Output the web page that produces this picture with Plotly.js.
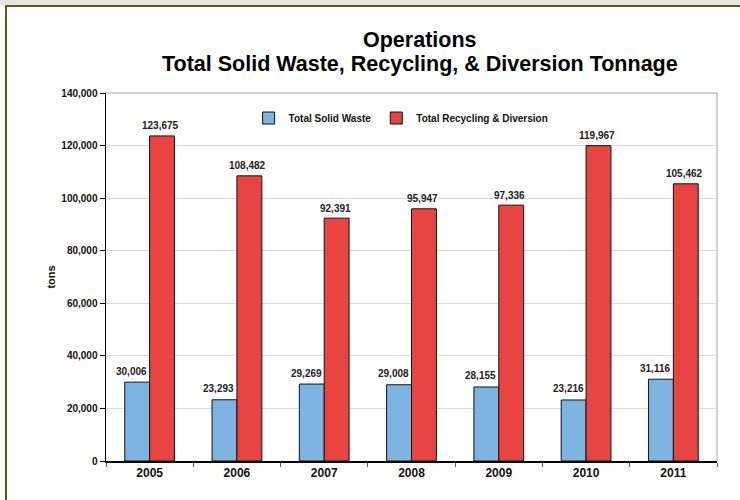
<!DOCTYPE html>
<html>
<head>
<meta charset="utf-8">
<script src="https://cdn.plot.ly/plotly-3.0.1.min.js"></script>
<style>
  html, body { margin: 0; padding: 0; background: #ffffff; }
  #wrap { position: relative; width: 740px; height: 500px; overflow: hidden; background: #ffffff; }
  #strip { position: absolute; left: 0; top: 0; width: 740px; height: 5px; background: #e6e6e6; }
  #frame { position: absolute; left: 5px; top: 5px; width: 740px; height: 500px;
           border-top: 2px solid #6b5422; border-left: 2px solid #6b5422; }
  #chart { position: absolute; left: 0; top: 0; width: 740px; height: 500px; }
</style>
</head>
<body>
<div id="wrap">
  <div id="strip"></div>
  <div id="frame"></div>
  <div id="chart"></div>
</div>
<script>
const years = ['2005', '2006', '2007', '2008', '2009', '2010', '2011'];
const solidWaste = [30006, 23293, 29269, 29008, 28155, 23216, 31116];
const recycling = [123675, 108482, 92391, 95947, 97336, 119967, 105462];
const seriesNames = ['Total Solid Waste', 'Total Recycling & Diversion'];
const titleLines = ['Operations', 'Total Solid Waste, Recycling, & Diversion Tonnage'];
const yTickVals = [0, 20000, 40000, 60000, 80000, 100000, 120000, 140000];

const FONT = 'Liberation Sans, Arial, sans-serif';
const fmt = v => v.toLocaleString('en-US');

const traces = [
  {
    type: 'bar', name: seriesNames[0], x: years, y: solidWaste,
    marker: { color: '#7db4e2', line: { color: '#111111', width: 1 } },
    hoverinfo: 'none'
  },
  {
    type: 'bar', name: seriesNames[1], x: years, y: recycling,
    marker: { color: '#e84441', line: { color: '#111111', width: 1 } },
    hoverinfo: 'none'
  }
];

const annotations = [];
years.forEach((yr, i) => {
  annotations.push({
    x: i, y: solidWaste[i], xref: 'x', yref: 'y', text: '<b>' + fmt(solidWaste[i]) + '</b>',
    showarrow: false, xshift: -18, yshift: 11, font: { family: FONT, size: 10, color: '#222' }
  });
  annotations.push({
    x: i, y: recycling[i], xref: 'x', yref: 'y', text: '<b>' + fmt(recycling[i]) + '</b>',
    showarrow: false, xshift: 11, yshift: 10, font: { family: FONT, size: 10, color: '#222' }
  });
});
annotations.push({
  x: 0.514, y: 1.144, xref: 'paper', yref: 'paper', xanchor: 'center', yanchor: 'middle',
  text: '<b>' + titleLines[0] + '</b>', showarrow: false,
  font: { family: FONT, size: 21.5, color: '#000' }
});
annotations.push({
  x: 0.514, y: 1.0788, xref: 'paper', yref: 'paper', xanchor: 'center', yanchor: 'middle',
  text: '<b>' + titleLines[1] + '</b>', showarrow: false,
  font: { family: FONT, size: 21.5, color: '#000' }
});

const layout = {
  width: 740, height: 500,
  margin: { l: 106, r: 23, t: 93, b: 39 },
  paper_bgcolor: 'rgba(0,0,0,0)',
  plot_bgcolor: '#ffffff',
  font: { family: FONT, color: '#111' },
  barmode: 'group',
  bargap: 0.43,
  bargroupgap: 0,
  showlegend: true,
  legend: {
    orientation: 'h', x: 0.483, xanchor: 'center', y: 0.932, yanchor: 'middle',
    font: { family: FONT, size: 10, color: '#111', weight: 'bold' },
    bgcolor: 'rgba(0,0,0,0)', itemwidth: 30, traceorder: 'normal'
  },
  xaxis: {
    type: 'category',
    range: [-0.5, years.length - 0.5],
    autorange: false,
    showline: true, linecolor: '#000', linewidth: 1.5,
    ticks: 'outside', tickson: 'boundaries', ticklen: 4, tickcolor: '#555',
    tickfont: { family: FONT, size: 12, color: '#111', weight: 'bold' },
    tickangle: 0,
    showgrid: false, fixedrange: true
  },
  yaxis: {
    range: [0, 140000],
    autorange: false,
    tickvals: yTickVals,
    ticktext: yTickVals.map(fmt),
    showline: true, linecolor: '#000', linewidth: 1.5,
    ticks: 'outside', ticklen: 5, tickcolor: '#000',
    tickfont: { family: FONT, size: 10, color: '#111', weight: 'bold' },
    showgrid: true, gridcolor: '#d9d9d9', gridwidth: 1,
    zeroline: false,
    title: { text: '<b>tons</b>', font: { family: FONT, size: 11, color: '#111' }, standoff: 3 },
    fixedrange: true
  },
  shapes: [
    { type: 'line', xref: 'paper', yref: 'paper', x0: 0, x1: 1, y0: 1, y1: 1, line: { color: '#a6a6a6', width: 1 } },
    { type: 'line', xref: 'paper', yref: 'paper', x0: 1, x1: 1, y0: 0, y1: 1, line: { color: '#a6a6a6', width: 1 } }
  ],
  annotations: annotations
};

Plotly.newPlot('chart', traces, layout, { displayModeBar: false, staticPlot: true });
</script>
</body>
</html>
